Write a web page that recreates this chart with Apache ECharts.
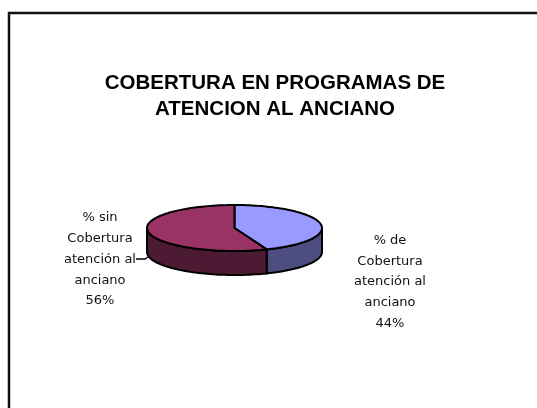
<!DOCTYPE html>
<html>
<head>
<meta charset="utf-8">
<style>html,body{margin:0;padding:0;background:#fff}#c{width:537px;height:408px}</style>
<script src="https://cdn.jsdelivr.net/npm/echarts@6/dist/echarts.min.js"></script>
</head>
<body>
<div id="c"></div>
<script>
const titleText = "COBERTURA EN PROGRAMAS DE\nATENCION AL ANCIANO";
const categories = ["% de\nCobertura\natención al\nanciano", "% sin\nCobertura\natención al\nanciano"];
const values = [44, 56];
const topColors = ["#9999FF", "#993366"];
const sideColors = ["#4D4D80", "#4D1A33"];

const chart = echarts.init(document.getElementById('c'), null, {renderer: 'canvas'});
const CX = 234.5, CY = 228, RX = 87.5, RY = 23, DEPTH = 24;
const labelPos = [[390, 282], [100, 259.5]];
const total = values.reduce((a, b) => a + b, 0);

function pt(deg, dy) {
  const r = deg * Math.PI / 180;
  return [CX + RX * Math.sin(r), CY - RY * Math.cos(r) + (dy || 0)];
}
function arc(a, b, dy) {
  const out = [];
  const n = Math.max(2, Math.ceil(Math.abs(b - a) / 2));
  for (let i = 0; i <= n; i++) out.push(pt(a + (b - a) * i / n, dy));
  return out;
}
const edge = {stroke: '#000', lineWidth: 2, lineJoin: 'round'};

function renderItem(params, api) {
  const i = params.dataIndex;
  let start = 0;
  for (let k = 0; k < i; k++) start += values[k] / total * 360;
  const end = start + api.value(0) / total * 360;
  const children = [];
  const s = Math.max(start, 90), e = Math.min(end, 270);
  if (e > s) {
    children.push({type: 'polygon', shape: {points: arc(s, e, 0).concat(arc(e, s, DEPTH))},
      style: Object.assign({fill: sideColors[i]}, edge)});
  }
  children.push({type: 'polygon', shape: {points: [[CX, CY]].concat(arc(start, end, 0))},
    style: Object.assign({fill: topColors[i]}, edge)});
  children.push({type: 'text', style: {
    text: categories[i] + "\n" + api.value(0) + "%",
    x: labelPos[i][0], y: labelPos[i][1], align: 'center', verticalAlign: 'middle',
    fill: '#111', font: '13px "DejaVu Sans"', lineHeight: 20.7, width: 100
  }});
  if (i === 1) {
    children.push({type: 'polyline', shape: {points: [[136, 259], [145, 259], [148, 257]]},
      style: {stroke: '#000', lineWidth: 1.5, fill: null}});
  }
  return {type: 'group', children};
}

chart.setOption({
  animation: false,
  backgroundColor: '#fff',
  title: {
    text: titleText, left: 270, top: 65, textAlign: 'center',
    textStyle: {fontFamily: '"Liberation Sans"', fontWeight: 'bold', fontSize: 20.5, lineHeight: 26, color: '#000'}
  },
  graphic: [{
    type: 'polyline', silent: true,
    shape: {points: [[9, 408], [9, 13], [537, 13]]},
    style: {stroke: '#111', lineWidth: 2.5, fill: null}
  }],
  series: [{
    type: 'custom', coordinateSystem: 'none', renderItem,
    data: values.map((v, i) => ({name: categories[i], value: [v]}))
  }]
});
</script>
</body>
</html>
